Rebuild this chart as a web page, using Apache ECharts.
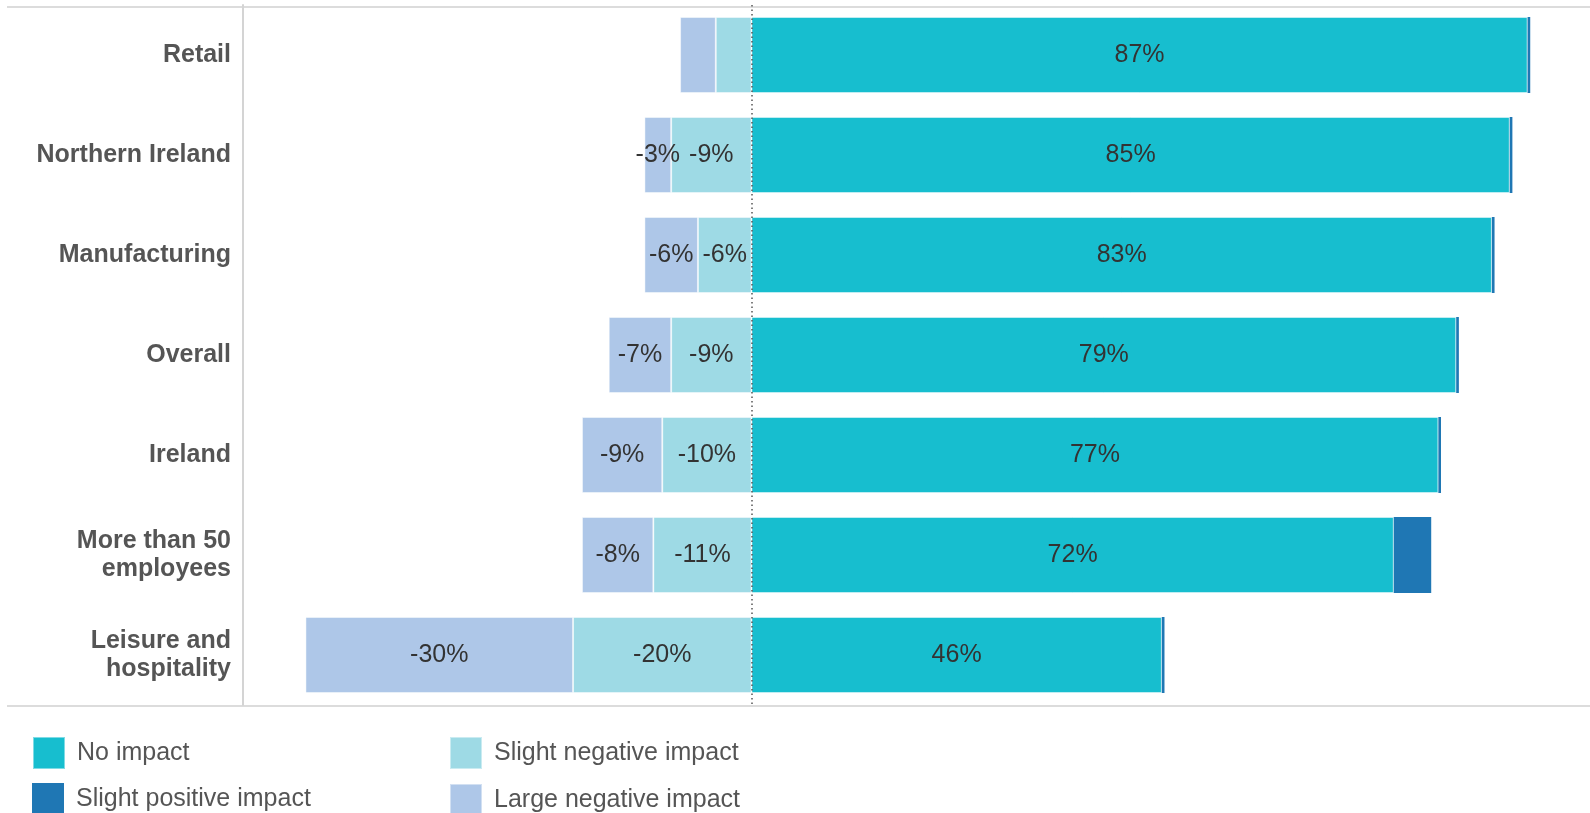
<!DOCTYPE html>
<html>
<head>
<meta charset="utf-8">
<script src="https://cdn.jsdelivr.net/npm/echarts@6/dist/echarts.min.js"></script>
<style>
  html, body { margin: 0; padding: 0; background: #fff; }
  #chart { width: 1590px; height: 813px; }
</style>
</head>
<body>
<div id="chart"></div>
<script>
// ---- data ----
const categories = ['Retail', 'Northern Ireland', 'Manufacturing', 'Overall', 'Ireland', 'More than 50\nemployees', 'Leisure and\nhospitality'];
const noImpact = [87, 85, 83, 79, 77, 72, 46];
const slightPositive = [0.3, 0.3, 0.3, 0.3, 0.3, 4.2, 0.3];
const slightNegative = [-4, -9, -6, -9, -10, -11, -20];
const largeNegative = [-4, -3, -6, -7, -9, -8, -30];
const unlabelled = ['Retail'];
const legendColumns = [['No impact', 'Slight positive impact'], ['Slight negative impact', 'Large negative impact']];

const FONT = '"Liberation Sans", Arial, sans-serif';
const chart = echarts.init(document.getElementById('chart'), null, { renderer: 'canvas' });

function labelled(values, showFn) {
  return values.map((v, i) => ({ value: v, label: { show: showFn(i) } }));
}
const barLabel = {
  show: true,
  position: 'inside',
  color: '#333',
  fontFamily: FONT,
  fontSize: 25,
  formatter: p => Math.round(p.value) + '%'
};
const edge = { borderColor: 'rgba(255,255,255,0.45)', borderWidth: 1 };

const legendLefts = [32, 449];
const legendTops = [736, 783];
const legends = [];
legendColumns.forEach((col, ci) => {
  col.forEach((name, ri) => {
    legends.push({
      left: legendLefts[ci], top: legendTops[ri], padding: 0,
      itemWidth: 32, itemHeight: 32, icon: 'rect',
      textStyle: { color: '#555', fontFamily: FONT, fontSize: 25, padding: [0, 0, 0, 7] },
      data: [name]
    });
  });
});

chart.setOption({
  animation: false,
  backgroundColor: '#fff',
  grid: { left: 243, right: 0, top: 5, bottom: 108, containLabel: false },
  xAxis: {
    type: 'value', min: -57, max: 94,
    axisLine: { show: false }, axisTick: { show: false },
    axisLabel: { show: false }, splitLine: { show: false }
  },
  yAxis: {
    type: 'category', data: categories, inverse: true,
    axisLine: { show: true, onZero: false, lineStyle: { color: '#d4d4d4', width: 2 } },
    axisTick: { show: false },
    axisLabel: {
      margin: 12, color: '#555', fontFamily: FONT, fontWeight: 'bold',
      fontSize: 25, lineHeight: 28, align: 'right'
    }
  },
  legend: legends,
  graphic: [
    { type: 'line', shape: { x1: 7, y1: 7, x2: 1590, y2: 7 }, style: { stroke: '#dcdcdc', lineWidth: 2 }, z: 0 },
    { type: 'line', shape: { x1: 7, y1: 706, x2: 1590, y2: 706 }, style: { stroke: '#dcdcdc', lineWidth: 2 }, z: 0 }
  ],
  series: [
    {
      name: 'zero', type: 'bar', stack: 'all', data: [], z: 1, silent: true,
      markLine: {
        symbol: 'none', silent: true, label: { show: false },
        lineStyle: { color: '#555', type: [1.5, 3], width: 1.5 },
        data: [{ xAxis: 0 }]
      }
    },
    {
      name: 'Slight negative impact', type: 'bar', stack: 'all', z: 2,
      barCategoryGap: '24%',
      itemStyle: Object.assign({ color: '#9edae5' }, edge),
      label: barLabel,
      data: labelled(slightNegative, i => !unlabelled.includes(categories[i]))
    },
    {
      name: 'Large negative impact', type: 'bar', stack: 'all', z: 2,
      itemStyle: Object.assign({ color: '#aec7e8' }, edge),
      label: barLabel,
      data: labelled(largeNegative, i => !unlabelled.includes(categories[i]))
    },
    {
      name: 'No impact', type: 'bar', stack: 'all', z: 2,
      itemStyle: Object.assign({ color: '#17becf' }, edge),
      label: barLabel,
      data: noImpact
    },
    {
      name: 'Slight positive impact', type: 'bar', stack: 'all', z: 2,
      itemStyle: { color: '#1f77b4', borderWidth: 0 },
      label: { show: false },
      data: slightPositive
    }
  ]
});
</script>
</body>
</html>
